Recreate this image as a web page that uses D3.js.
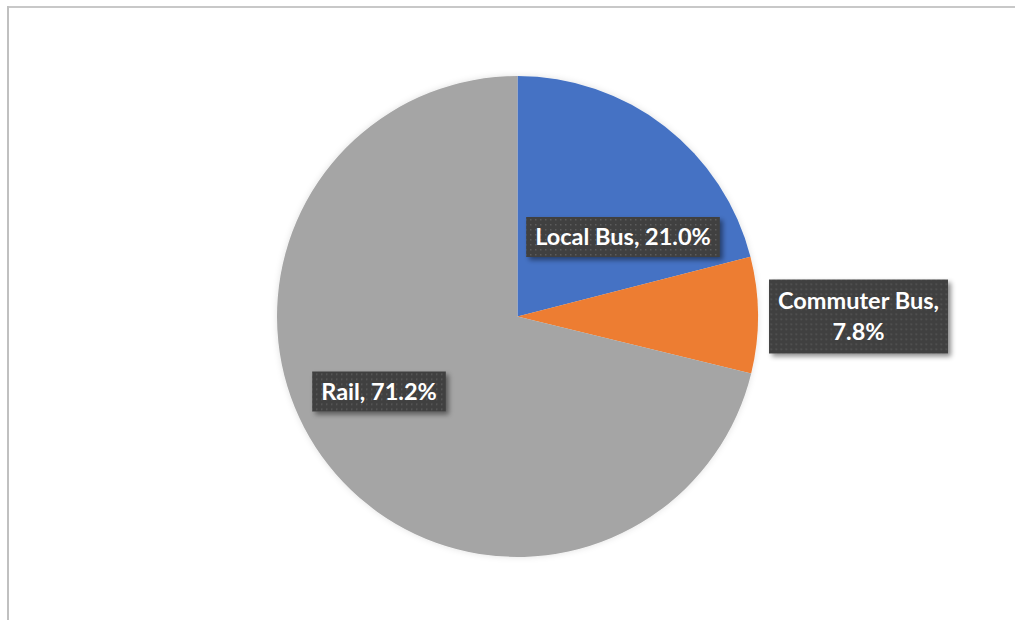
<!DOCTYPE html>
<html><head><meta charset="utf-8">
<script src="https://cdn.jsdelivr.net/npm/d3@7"></script>
<style>html,body{margin:0;padding:0;background:#fff;}svg{display:block;}</style>
</head><body>
<svg id="chart" width="1015" height="620"></svg>
<script>
const categories = ["Local Bus", "Commuter Bus", "Rail"];
const values = [21.0, 7.8, 71.2];
const colors = ["#4472C4", "#ED7D31", "#A5A5A5"];
const labelLines = [["Local Bus, 21.0%"], ["Commuter Bus,", "7.8%"], ["Rail, 71.2%"]];

const svg = d3.select("#chart");
const W = 1015, H = 620;
const cx = 517.5, cy = 316.5, R = 240.5;
// label box centres, relative to pie centre (layout only)
const labelOffsets = [[105.5, -79.5], [341, 0], [-138.5, 75]];

const defs = svg.append("defs");
const pat = defs.append("pattern").attr("id","dots").attr("patternUnits","userSpaceOnUse")
  .attr("width",5).attr("height",5);
pat.append("rect").attr("width",5).attr("height",5).attr("fill","#3f3f3f");
pat.append("rect").attr("x",2).attr("y",2).attr("width",1.5).attr("height",1.5).attr("fill","#5c5c5c");
const sh = defs.append("filter").attr("id","shadow").attr("x","-20%").attr("y","-30%").attr("width","140%").attr("height","170%");
sh.append("feDropShadow").attr("dx",3).attr("dy",3).attr("stdDeviation",2.5).attr("flood-color","#000").attr("flood-opacity",0.45);
const psh = defs.append("filter").attr("id","pshadow").attr("x","-10%").attr("y","-10%").attr("width","120%").attr("height","120%");
psh.append("feDropShadow").attr("dx",0).attr("dy",0).attr("stdDeviation",3).attr("flood-color","#000").attr("flood-opacity",0.12);

// frame
svg.append("line").attr("x1",7).attr("x2",W).attr("y1",7).attr("y2",7).attr("stroke","#c8c8c8").attr("stroke-width",2);
svg.append("line").attr("x1",8).attr("x2",8).attr("y1",6).attr("y2",H).attr("stroke","#c0c0c0").attr("stroke-width",2);

const pie = d3.pie().sort(null).value(d => d)(values);
const arc = d3.arc().innerRadius(0).outerRadius(R);
const g = svg.append("g").attr("transform",`translate(${cx},${cy})`).attr("filter","url(#pshadow)");
g.selectAll("path").data(pie).join("path").attr("d",arc).attr("fill",(d,i)=>colors[i]);

const fs = 23.5, lh = 31;
const lg = svg.append("g").attr("transform",`translate(${cx},${cy})`);
pie.forEach((d,i) => {
  const [px, py] = labelOffsets[i];
  const grp = lg.append("g");
  const lines = labelLines[i];
  const t = grp.append("text").attr("font-family","Lato, 'Open Sans', sans-serif").attr("font-weight","bold")
    .attr("font-size",fs).attr("fill","#fff").attr("text-anchor","middle");
  lines.forEach((ln,j) => {
    t.append("tspan").attr("x",0).attr("y",(j-(lines.length-1)/2)*lh).attr("dy","0.35em").text(ln);
  });
  const bb = t.node().getBBox();
  const padX = 9;
  const bw = bb.width + 2*padX;
  const bh = lines.length===1 ? 40 : 74;
  grp.insert("rect","text").attr("x",-bw/2).attr("y",-bh/2).attr("width",bw).attr("height",bh)
    .attr("fill","url(#dots)").attr("filter","url(#shadow)");
  grp.attr("transform",`translate(${px},${py})`);
});
</script>
</body></html>
